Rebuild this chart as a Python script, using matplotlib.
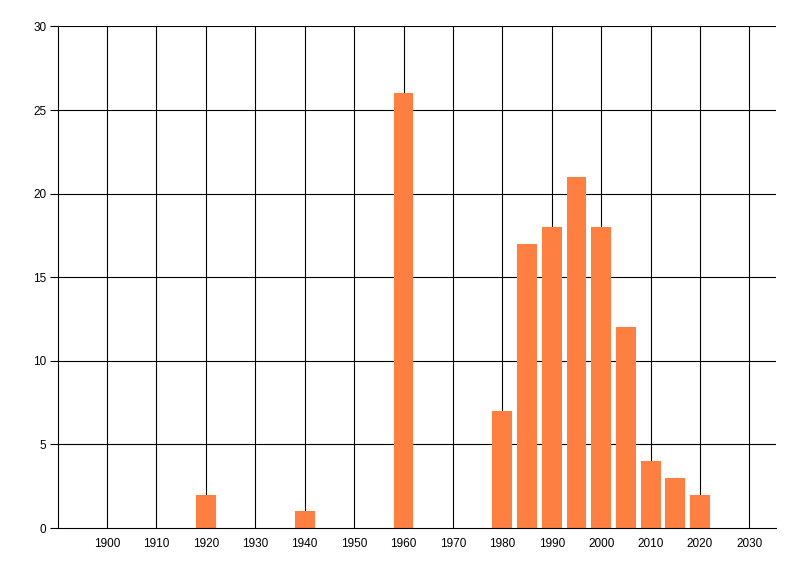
import matplotlib

matplotlib.use("Agg")

import matplotlib.pyplot as plt

years = [1920, 1940, 1960, 1980, 1985, 1990, 1995, 2000, 2005, 2010, 2015, 2020]
counts = [2, 1, 26, 7, 17, 18, 21, 18, 12, 4, 3, 2]
x_ticks = list(range(1900, 2031, 10))
y_ticks = list(range(0, 31, 5))

plt.rcParams["font.family"] = ["Liberation Sans", "DejaVu Sans"]

fig = plt.figure(figsize=(8, 5.76), dpi=100)
ax = fig.add_axes([0.0719, 0.0833, 0.8977, 0.8707])

ax.set_xlim(1890, 2035.3)
ax.set_ylim(0, 30)

# grid drawn as plain black lines, like the original chart control
for x in x_ticks:
    ax.axvline(x, color="black", linewidth=0.8, zorder=1)
for y in y_ticks[1:]:
    ax.axhline(y, color="black", linewidth=0.8, zorder=1)

ax.bar(years, counts, width=4, color="#ff7f40", linewidth=0, zorder=2)

ax.set_xticks(x_ticks)
ax.set_yticks(y_ticks)
ax.tick_params(axis="x", length=0, pad=7, labelsize=8.5)
ax.tick_params(axis="y", length=6, width=0.8, pad=2, labelsize=8.5)

ax.spines["top"].set_visible(False)
ax.spines["right"].set_visible(False)
ax.spines["left"].set_linewidth(0.8)
ax.spines["bottom"].set_linewidth(0.8)

fig.savefig("out.png", dpi=100)
plt.close(fig)
